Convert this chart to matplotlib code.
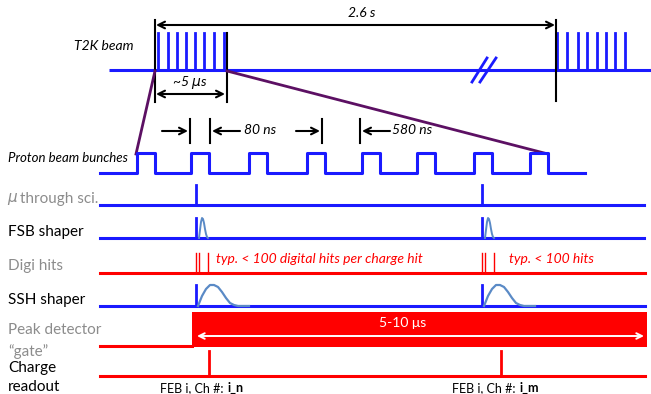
import matplotlib
matplotlib.use("Agg")
import matplotlib.pyplot as plt
from matplotlib.patches import Rectangle, FancyArrowPatch

# ---------------- data (pixel-space diagram coordinates) ----------------
t2k_spill1 = [158, 168, 177, 186, 195, 204, 214, 224]
t2k_spill2 = [557, 567, 578, 587, 597, 606, 615, 625]
bunch_rises = [137, 191, 249, 307, 362, 417, 474, 530]
bunch_width = 18
hit_times = [196, 482]
digi_offsets = [0, 3, 12]
readout_times = [209, 501]
readout_labels = ["i_n", "i_m"]
# shaper pulse shapes (x offset, height)
fsb_shape_dx = [3, 4, 5, 6, 7, 8, 9, 10, 11, 12]
fsb_shape_h = [0, 8, 16, 20, 19, 15, 9, 4, 1, 0]
ssh_shape_dx = [2, 6, 10, 14, 18, 22, 26, 30, 34, 38, 42, 46, 53]
ssh_shape_h = [0, 10, 17, 21, 21, 19, 14, 8, 3, 1, 0, 0, 0]
row_labels = ["T2K beam", "Proton beam bunches", "μ through sci.", "FSB shaper",
              "Digi hits", "SSH shaper", "Peak detector", "“gate”", "Charge", "readout"]

BLUE = "#1a1aff"
RED = "#ff0000"
PURPLE = "#5c1063"
LBLUE = "#5a8ac6"
GRAY = "#8c8c8c"
FONT = "Lato"
LBL = 11

fig = plt.figure(figsize=(6.51, 3.94), dpi=100)
ax = fig.add_axes([0, 0, 1, 1])
ax.set_xlim(0, 651)
ax.set_ylim(394, 0)
ax.axis("off")

lw_sig = 2.2

def arrow(x0, y0, x1, y1, color="black", style="<->", lw=1.5, ms=12):
    a = FancyArrowPatch((x0, y0), (x1, y1), arrowstyle=style, mutation_scale=ms,
                        color=color, lw=lw, shrinkA=0, shrinkB=0)
    ax.add_patch(a)

# ---------------- T2K beam ----------------
yb = 70
ax.plot([109, 651], [yb, yb], color=BLUE, lw=lw_sig, solid_capstyle="butt")
for x in t2k_spill1 + t2k_spill2:
    ax.plot([x, x], [yb, 33], color=BLUE, lw=2.0)
# break mark
ax.plot([472, 487], [82, 58], color=BLUE, lw=2.0)
ax.plot([480, 496], [82, 58], color=BLUE, lw=2.0)
# black markers
ax.plot([155, 155], [20, 102], color="black", lw=1.5)
ax.plot([227, 227], [33, 102], color="black", lw=1.5)
ax.plot([556, 556], [20, 101], color="black", lw=1.5)
arrow(156, 25, 555, 25)
ax.text(362, 13, "2.6 s", fontsize=10, style="italic", ha="center", va="center", family=FONT)
arrow(156, 94, 225, 94)
ax.text(190, 82, "~5 $\\mu$s", fontsize=10, style="italic", ha="center", va="center", family=FONT)
ax.text(133, 46, row_labels[0], fontsize=10, style="italic", ha="right", va="center", family=FONT)

# purple zoom lines
ax.plot([155, 136], [71, 154], color=PURPLE, lw=2.0)
ax.plot([227, 548], [71, 154], color=PURPLE, lw=2.0)

# ---------------- Proton beam bunches ----------------
ylo, yhi = 173, 153
xs, ys = [100], [ylo]
for r in bunch_rises:
    xs += [r, r, r + bunch_width, r + bunch_width]
    ys += [ylo, yhi, yhi, ylo]
xs.append(585); ys.append(ylo)
ax.plot(xs, ys, color=BLUE, lw=lw_sig)
ax.text(8, 158, row_labels[1], fontsize=9.5, style="italic", ha="left", va="center", family=FONT)

# bunch spacing annotations
for x in [190, 210, 322, 360]:
    ax.plot([x, x], [119, 143], color="black", lw=1.5)
arrow(162, 131, 188, 131, style="->")
arrow(240, 131, 212, 131, style="->")
ax.text(244, 130, "80 ns", fontsize=10, style="italic", ha="left", va="center", family=FONT)
arrow(296, 131, 320, 131, style="->")
arrow(390, 131, 362, 131, style="->")
ax.text(392, 130, "580 ns", fontsize=10, style="italic", ha="left", va="center", family=FONT)

# ---------------- mu through sci ----------------
ym = 205
ax.plot([100, 644], [ym, ym], color=BLUE, lw=lw_sig)
for t in hit_times:
    ax.plot([t, t], [ym, 185], color=BLUE, lw=2.0)
ax.text(7, 199, "$\\mu$", fontsize=LBL, color=GRAY, ha="left", va="center")
ax.text(20, 199, "through sci.", fontsize=LBL, color=GRAY, ha="left", va="center", family=FONT)

# ---------------- FSB shaper ----------------
yf = 238
ax.plot([100, 644], [yf, yf], color=BLUE, lw=lw_sig)
for t in hit_times:
    ax.plot([t, t], [yf, 218], color=BLUE, lw=2.0)
    ax.plot([t + d for d in fsb_shape_dx], [yf - h for h in fsb_shape_h], color=LBLUE, lw=1.4)
ax.text(8, 232, row_labels[3], fontsize=LBL, color="black", ha="left", va="center", family=FONT)

# ---------------- Digi hits ----------------
yd = 273
ax.plot([100, 645], [yd, yd], color=RED, lw=lw_sig)
for t in hit_times:
    for d in digi_offsets:
        ax.plot([t + d, t + d], [yd, 253], color=RED, lw=1.0)
ax.text(8, 266, row_labels[4], fontsize=LBL, color=GRAY, ha="left", va="center", family=FONT)
ax.text(216, 259, "typ. < 100 digital hits per charge hit", fontsize=10, style="italic",
        color=RED, ha="left", va="center", family=FONT)
ax.text(509, 259, "typ. < 100 hits", fontsize=10, style="italic",
        color=RED, ha="left", va="center", family=FONT)

# ---------------- SSH shaper ----------------
yss = 306
ax.plot([100, 645], [yss, yss], color=BLUE, lw=lw_sig)
for t in hit_times:
    ax.plot([t, t], [yss, 285], color=BLUE, lw=2.0)
    ax.plot([t + d for d in ssh_shape_dx], [yss - h for h in ssh_shape_h], color=LBLUE, lw=1.6)
ax.text(8, 300, row_labels[5], fontsize=LBL, color="black", ha="left", va="center", family=FONT)

# ---------------- Peak detector gate ----------------
yg = 346
gate_start, gate_end = 192, 647
ax.plot([100, gate_start], [yg, yg], color=RED, lw=lw_sig)
ax.add_patch(Rectangle((gate_start, 312), gate_end - gate_start, yg - 312 + 1,
                       facecolor=RED, edgecolor="none"))
arrow(gate_start + 5, 336, gate_end - 3, 336, color="white", lw=1.4, ms=10)
ax.text(403, 323, "5-10 μs", fontsize=10, color="white", ha="center", va="center", family=FONT)
ax.text(8, 330, row_labels[6], fontsize=LBL, color=GRAY, ha="left", va="center", family=FONT)
ax.text(8, 352, row_labels[7], fontsize=LBL, color=GRAY, ha="left", va="center", family=FONT)

# ---------------- Charge readout ----------------
yr = 376
ax.plot([100, 645], [yr, yr], color=RED, lw=lw_sig)
for t, lab in zip(readout_times, readout_labels):
    ax.plot([t, t], [yr, 351], color=RED, lw=2.0)
    ax.text(t - 49, 388, "FEB i, Ch #: ", fontsize=9, color="black", ha="left", va="center", family=FONT)
    ax.text(t + 19, 388, lab, fontsize=9, color="black", weight="bold", ha="left", va="center", family=FONT)
ax.text(8, 368, row_labels[8], fontsize=LBL, color="black", ha="left", va="center", family=FONT)
ax.text(8, 387, row_labels[9], fontsize=LBL, color="black", ha="left", va="center", family=FONT)

fig.savefig("out.png", dpi=100)
